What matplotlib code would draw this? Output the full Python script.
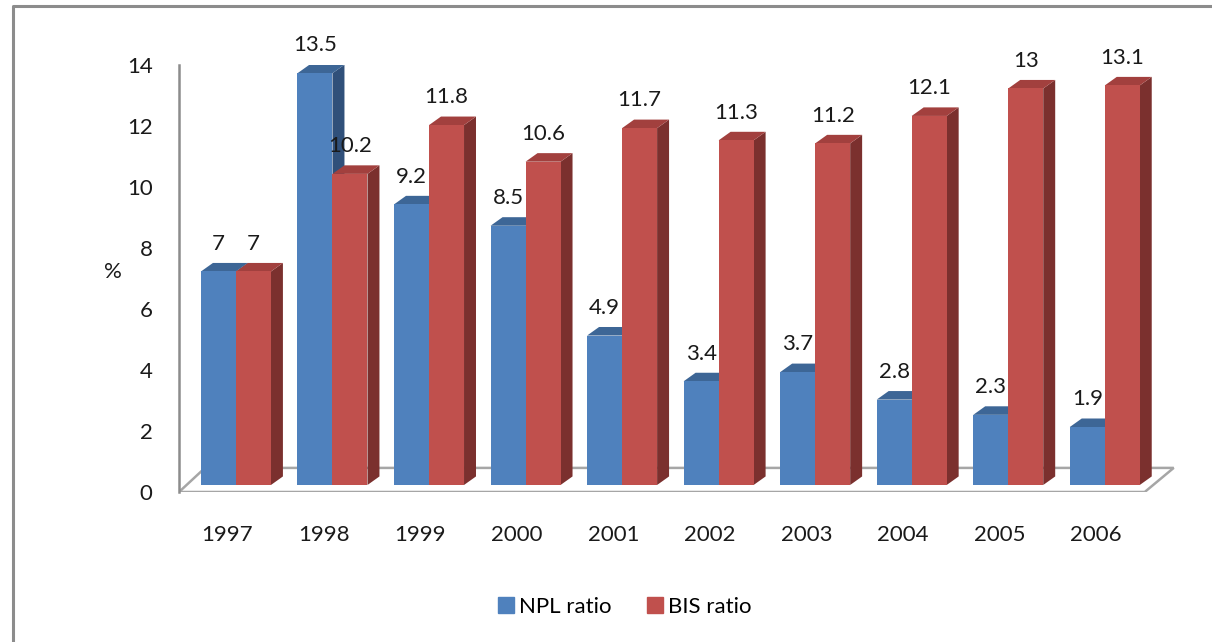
import matplotlib
matplotlib.use("Agg")
import matplotlib.pyplot as plt
from matplotlib.patches import Polygon
from matplotlib.lines import Line2D
import numpy as np

# data
years = ["1997", "1998", "1999", "2000", "2001", "2002", "2003", "2004", "2005", "2006"]
npl_ratio = [7, 13.5, 9.2, 8.5, 4.9, 3.4, 3.7, 2.8, 2.3, 1.9]
bis_ratio = [7, 10.2, 11.8, 10.6, 11.7, 11.3, 11.2, 12.1, 13, 13.1]
series_names = ["NPL ratio", "BIS ratio"]

plt.rcParams['font.family'] = ['Lato', 'DejaVu Sans']

# fake 3d look (excel style)
bar_w = 0.3625
base = 0.23      # bars sit a bit behind the floor front edge
dx, dy = 0.124, 0.28
colors = {
    "NPL ratio": ("#4f81bd", "#3d6696", "#30507a"),
    "BIS ratio": ("#c0504d", "#a2403e", "#7b302e"),
}

fig = plt.figure(figsize=(12.12, 6.42), dpi=100)
ax = fig.add_axes([179 / 1212, 150 / 642, 1003 / 1212, 427 / 642])
ax.set_xlim(-0.59, 9.8)
ax.set_ylim(0, 14)

x = np.arange(len(years))

# floor
floor = Polygon([(-0.59, 0), (9.414, 0), (9.714, 0.79), (-0.321, 0.79)],
                closed=True, facecolor="white", edgecolor="#a6a6a6", lw=1.8, zorder=1)
ax.add_patch(floor)


def bar3d(x0, val, name):
    front, top, side = colors[name]
    x1 = x0 + bar_w
    y0, y1 = base, base + val
    ax.add_patch(Polygon([(x1, y0), (x1 + dx, y0 + dy), (x1 + dx, y1 + dy), (x1, y1)],
                         closed=True, facecolor=side, edgecolor="none", zorder=2))
    ax.add_patch(Polygon([(x0, y1), (x1, y1), (x1 + dx, y1 + dy), (x0 + dx, y1 + dy)],
                         closed=True, facecolor=top, edgecolor="none", zorder=2))
    ax.bar(x0, val, width=bar_w, bottom=y0, align="edge", color=front,
           edgecolor="none", zorder=2)
    ax.text(x0 + bar_w / 2, val + 1.14, f"{val:g}", ha="center", va="center",
            fontsize=16, color="#1a1a1a", zorder=5)


for i in range(len(years)):
    bar3d(x[i] - bar_w, npl_ratio[i], "NPL ratio")
    bar3d(x[i], bis_ratio[i], "BIS ratio")

for s in ["top", "right", "bottom"]:
    ax.spines[s].set_visible(False)
ax.spines["left"].set_color("#8c8c8c")
ax.spines["left"].set_linewidth(1.8)

ax.set_yticks(np.arange(0, 15, 2))
ax.tick_params(axis="y", length=0, pad=19, labelsize=16, labelcolor="#1a1a1a")
ax.set_xticks(x - 0.09)
ax.set_xticklabels(years)
ax.tick_params(axis="x", length=0, pad=24, labelsize=16, labelcolor="#1a1a1a")

fig.text(113 / 1212, 1 - 272 / 642, "%", ha="center", va="center", fontsize=16, color="#1a1a1a")

# legend
handles = [plt.Rectangle((0, 0), 1, 1, color=colors[n][0]) for n in series_names]
fig.legend(handles, series_names, loc="center", bbox_to_anchor=(625 / 1212, 1 - 607 / 642),
           ncol=2, frameon=False, fontsize=16, handlelength=0.7, handleheight=0.7,
           handletextpad=0.25, columnspacing=1.6)

# chart area border (left and top)
fig.add_artist(Line2D([12.5 / 1212, 12.5 / 1212, 1], [0, 1 - 5.5 / 642, 1 - 5.5 / 642],
                      transform=fig.transFigure, color="#8c8c8c", lw=2.2))

fig.savefig("out.png", dpi=100)
